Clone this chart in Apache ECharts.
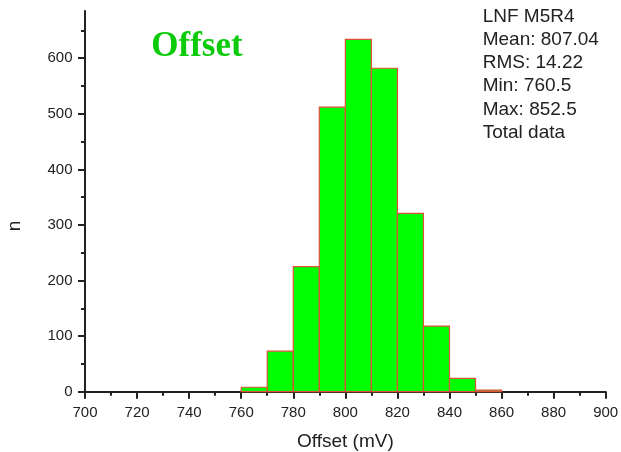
<!DOCTYPE html>
<html>
<head>
<meta charset="utf-8">
<title>Offset histogram</title>
<script src="https://cdn.jsdelivr.net/npm/echarts@6/dist/echarts.min.js"></script>
<style>
  html, body { margin: 0; padding: 0; background: #ffffff; }
  #chart { width: 621px; height: 452px; }
</style>
</head>
<body>
<div id="chart"></div>
<script>
// Histogram bins: lower edge of each 10 mV bin and its count
const binStarts = [760, 770, 780, 790, 800, 810, 820, 830, 840, 850];
const counts    = [8, 73, 225, 512, 634, 582, 321, 118, 24, 3];
const binWidth = 10;

// Axis tick values
const yMajorTicks = [0, 100, 200, 300, 400, 500, 600];
const yMinorTicks = [50, 150, 250, 350, 450, 550, 650];

// Statistics box
const statLines = ['LNF M5R4', 'Mean: 807.04', 'RMS: 14.22', 'Min: 760.5', 'Max: 852.5', 'Total data'];

const chart = echarts.init(document.getElementById('chart'), null, { renderer: 'canvas' });

const axisColor = '#222222';
const labelFont = { fontFamily: 'Liberation Sans, Arial, sans-serif', fontSize: 15, color: '#222222' };

const seriesData = binStarts.map((s, i) => [s, counts[i]]);

chart.setOption({
  backgroundColor: '#ffffff',
  animation: false,
  grid: { left: 85, right: 15.3, top: 11, bottom: 60.3, containLabel: false, outerBoundsMode: 'none' },
  xAxis: {
    type: 'value',
    min: 700, max: 900, interval: 20,
    name: 'Offset (mV)',
    nameLocation: 'middle',
    nameGap: 41,
    nameTextStyle: { fontFamily: 'Liberation Sans, Arial, sans-serif', fontSize: 19, color: '#222222' },
    axisLine: { show: true, lineStyle: { color: axisColor, width: 2 } },
    axisTick: { show: true, inside: false, length: 7, lineStyle: { color: axisColor, width: 2 } },
    minorTick: { show: true, splitNumber: 2, length: 4, lineStyle: { color: axisColor, width: 2 } },
    axisLabel: Object.assign({ margin: 13.5 }, labelFont),
    splitLine: { show: false }
  },
  yAxis: [
    {
      type: 'value',
      min: 0, max: 685,
      axisLine: { show: true, lineStyle: { color: axisColor, width: 2 } },
      axisTick: { show: true, length: 7, customValues: yMajorTicks, lineStyle: { color: axisColor, width: 2 } },
      axisLabel: Object.assign({ margin: 12.5, customValues: yMajorTicks }, labelFont),
      splitLine: { show: false }
    },
    {
      // minor ticks only
      type: 'value',
      min: 0, max: 685,
      position: 'left',
      axisLine: { show: false },
      axisTick: { show: true, length: 4, customValues: yMinorTicks, lineStyle: { color: axisColor, width: 2 } },
      axisLabel: { show: false },
      splitLine: { show: false }
    }
  ],
  series: [{
    type: 'custom',
    xAxisIndex: 0,
    yAxisIndex: 0,
    data: seriesData,
    encode: { x: 0, y: 1 },
    renderItem: function (params, api) {
      const x0 = api.value(0);
      const n = api.value(1);
      const topLeft = api.coord([x0, n]);
      const bottomRight = api.coord([x0 + binWidth, 0]);
      return {
        type: 'rect',
        shape: {
          x: topLeft[0],
          y: topLeft[1],
          width: bottomRight[0] - topLeft[0],
          height: bottomRight[1] - topLeft[1]
        },
        style: { fill: '#00ff00', stroke: '#e0503c', lineWidth: 1.2 }
      };
    }
  }],
  graphic: [
    {
      // y-axis title
      type: 'text',
      x: 15, y: 226,
      rotation: Math.PI / 2,
      style: {
        text: 'n',
        font: '19px "Liberation Sans", Arial, sans-serif',
        fill: '#222222',
        align: 'center',
        verticalAlign: 'middle'
      }
    },
    {
      type: 'text',
      x: 197, y: 47,
      style: {
        text: 'Offset',
        font: 'bold 35px "Liberation Serif", "Times New Roman", serif',
        fill: '#0bcb0b',
        align: 'center',
        verticalAlign: 'middle'
      }
    },
    {
      type: 'text',
      x: 482.7, y: 5,
      style: {
        text: statLines.join('\n'),
        font: '19px "Liberation Sans", Arial, sans-serif',
        lineHeight: 23.2,
        fill: '#222222',
        align: 'left',
        verticalAlign: 'top'
      }
    }
  ]
});
</script>
</body>
</html>
